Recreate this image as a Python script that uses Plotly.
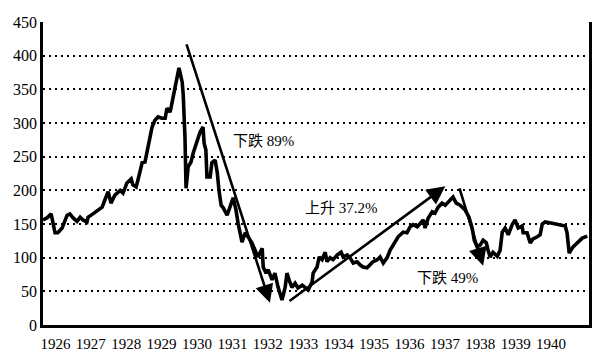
import plotly.graph_objects as go

# Time (fractional year) and index level
years = [
    1926.00, 1926.11, 1926.23, 1926.28, 1926.34, 1926.42, 1926.54, 1926.68, 1926.76, 1926.85,
    1926.96, 1927.05, 1927.13, 1927.24, 1927.27, 1927.41, 1927.55, 1927.67, 1927.75, 1927.84,
    1927.92, 1928.03, 1928.18, 1928.26, 1928.37, 1928.49, 1928.54, 1928.63, 1928.68, 1928.80,
    1928.88, 1928.94, 1928.99, 1929.08, 1929.16, 1929.25, 1929.36, 1929.45, 1929.50, 1929.59,
    1929.67, 1929.73, 1929.79, 1929.84, 1929.93, 1929.96, 1930.01, 1930.04, 1930.10, 1930.18,
    1930.24, 1930.35, 1930.44, 1930.52, 1930.55, 1930.60, 1930.63, 1930.72, 1930.77, 1930.86,
    1930.92, 1930.97, 1931.03, 1931.09, 1931.20, 1931.28, 1931.37, 1931.45, 1931.51, 1931.62,
    1931.71, 1931.79, 1931.90, 1931.99, 1932.07, 1932.19, 1932.22, 1932.30, 1932.36, 1932.47,
    1932.55, 1932.64, 1932.75, 1932.84, 1932.89, 1932.95, 1933.03, 1933.12, 1933.20, 1933.32,
    1933.40, 1933.49, 1933.60, 1933.63, 1933.74, 1933.80, 1933.88, 1933.97, 1934.02, 1934.11,
    1934.19, 1934.31, 1934.42, 1934.48, 1934.59, 1934.67, 1934.76, 1934.87, 1934.96, 1935.04,
    1935.15, 1935.24, 1935.32, 1935.44, 1935.52, 1935.61, 1935.72, 1935.80, 1935.94, 1936.03,
    1936.17, 1936.28, 1936.37, 1936.45, 1936.57, 1936.65, 1936.74, 1936.79, 1936.88, 1936.99,
    1937.07, 1937.16, 1937.27, 1937.36, 1937.44, 1937.55, 1937.58, 1937.67, 1937.78, 1937.92,
    1938.03, 1938.12, 1938.18, 1938.26, 1938.35, 1938.43, 1938.52, 1938.57, 1938.63, 1938.71,
    1938.83, 1938.91, 1938.97, 1939.05, 1939.14, 1939.25, 1939.33, 1939.42, 1939.53, 1939.56,
    1939.67, 1939.76, 1939.84, 1939.96, 1940.04, 1940.10, 1940.18, 1940.38, 1940.55, 1940.75,
    1940.80, 1940.86, 1940.97, 1941.09, 1941.23, 1941.37,
]
index_level = [
    156, 159, 165, 151, 137, 137, 144, 163, 165, 159,
    154, 160, 156, 153, 160, 165, 171, 175, 186, 198,
    181, 193, 200, 196, 211, 217, 208, 205, 215, 241,
    242, 257, 267, 294, 304, 309, 307, 307, 322, 316,
    337, 352, 367, 382, 361, 342, 278, 203, 235, 242,
    255, 275, 287, 294, 270, 260, 220, 220, 241, 245,
    227, 200, 178, 174, 163, 175, 189, 171, 151, 123,
    137, 131, 122, 111, 101, 114, 86, 77, 82, 67,
    77, 56, 37, 56, 77, 67, 56, 62, 55, 59,
    56, 52, 64, 77, 86, 101, 97, 108, 94, 100,
    97, 104, 108, 101, 104, 100, 92, 94, 89, 86,
    85, 89, 94, 97, 101, 92, 100, 111, 123, 131,
    138, 137, 146, 149, 146, 151, 156, 144, 159, 168,
    166, 175, 181, 178, 183, 189, 190, 181, 178, 171,
    160, 144, 126, 116, 119, 126, 122, 111, 101, 108,
    102, 111, 138, 144, 134, 149, 156, 144, 147, 137,
    137, 122, 128, 131, 134, 150, 153, 151, 149, 147,
    137, 107, 116, 122, 129, 132,
]

tick_years = list(range(1926, 1941))
tick_labels = [str(y) for y in tick_years]
y_ticks = list(range(0, 451, 50))

# Trend arrows: (tail year, tail value, head year, head value)
arrow_tail_x = [1930.04, 1932.92, 1937.75]
arrow_tail_y = [419, 34, 205]
arrow_head_x = [1932.41, 1937.36, 1938.43]
arrow_head_y = [33, 206, 88]

# Text labels
label_texts = ["下跌 89%", "上升 37.2%", "下跌 49%"]
label_x = [1932.22, 1934.42, 1937.41]
label_y = [273, 174, 70]

SERIF = "Times New Roman, Liberation Serif, serif"

fig = go.Figure()
fig.add_trace(go.Scatter(
    x=years, y=index_level, mode="lines",
    line=dict(color="black", width=3.6),
    showlegend=False, hoverinfo="skip",
))

annotations = []
for tx, ty, hx, hy in zip(arrow_tail_x, arrow_tail_y, arrow_head_x, arrow_head_y):
    annotations.append(dict(
        x=hx, y=hy, ax=tx, ay=ty, xref="x", yref="y", axref="x", ayref="y",
        showarrow=True, arrowhead=2, arrowsize=1.4, arrowwidth=2.6,
        arrowcolor="black", text="",
    ))
for t, lx, ly in zip(label_texts, label_x, label_y):
    annotations.append(dict(
        x=lx, y=ly, xref="x", yref="y", text=t, showarrow=False,
        font=dict(family="Times New Roman, Liberation Serif, Noto Sans CJK SC", size=15, color="black"),
    ))

fig.update_layout(
    width=608, height=354,
    margin=dict(l=43, r=19, t=22, b=29),
    paper_bgcolor="white", plot_bgcolor="white",
    annotations=annotations,
    xaxis=dict(
        range=[1926, 1941.42],
        tickvals=[y + 0.35 for y in tick_years], ticktext=tick_labels,
        showgrid=False, zeroline=False, automargin=False,
        showline=True, linecolor="black", linewidth=2.5, mirror=False,
        ticks="", ticklabelstandoff=3,
        tickfont=dict(family=SERIF, size=15, color="black"),
    ),
    yaxis=dict(
        range=[0, 450], tickvals=y_ticks,
        showgrid=True, gridcolor="black", gridwidth=1.6, griddash="2px,4px",
        zeroline=False, automargin=False,
        showline=True, linecolor="black", linewidth=2.5, mirror=True,
        ticks="", tickfont=dict(family=SERIF, size=16, color="black"),
    ),
)

fig.write_html("out.html")
